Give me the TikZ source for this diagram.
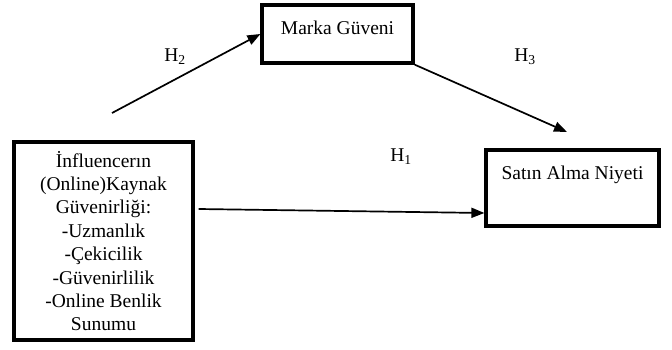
\documentclass[tikz,border=0pt]{standalone}
\usepackage{fontspec}
\setmainfont{Liberation Serif}
\usetikzlibrary{arrows.meta, positioning}

\begin{document}
\begin{tikzpicture}[x=1pt, y=1pt,
      box/.style={rectangle, draw=black, line width=3.2pt, align=center, font=\fontsize{19.5}{23.4}\selectfont, inner sep=2pt},
      lbl/.style={font=\fontsize{19.5}{23.4}\selectfont, inner sep=0pt},
      arr/.style={-{Triangle[length=13pt, width=10pt]}, black, line width=1.7pt}]
    \useasboundingbox (0,0) rectangle (672,349);
    \node[box, minimum width=179pt, minimum height=198pt] (src) at (103.5,108) {İnfluencerın\\(Online)Kaynak\\Güvenirliği:\\-Uzmanlık\\-Çekicilik\\-Güvenirlilik\\-Online Benlik\\Sunumu};
    \node[box, minimum width=151pt, minimum height=58pt, text depth=13pt] (mg) at (337.5,315) {Marka Güveni};
    \node[box, minimum width=173pt, minimum height=76pt, text depth=31pt] (sat) at (572.5,161) {Satın Alma Niyeti};
    \coordinate (h2s) at (112,236);
    \coordinate (h3e) at (567,217);
    \node[lbl] (h2) at (175,292) {H\textsubscript{2}};
    \node[lbl] (h3) at (525,292) {H\textsubscript{3}};
    \node[lbl] (h1) at (401,192) {H\textsubscript{1}};
    \draw[arr] (h2s) -- (mg.west);
    \draw[arr] (mg.south east) -- (h3e);
    \draw[arr] ([shift={(4pt,32pt)}]src.east) -- ([yshift=-25pt]sat.west);
  \end{tikzpicture}
\end{document}
